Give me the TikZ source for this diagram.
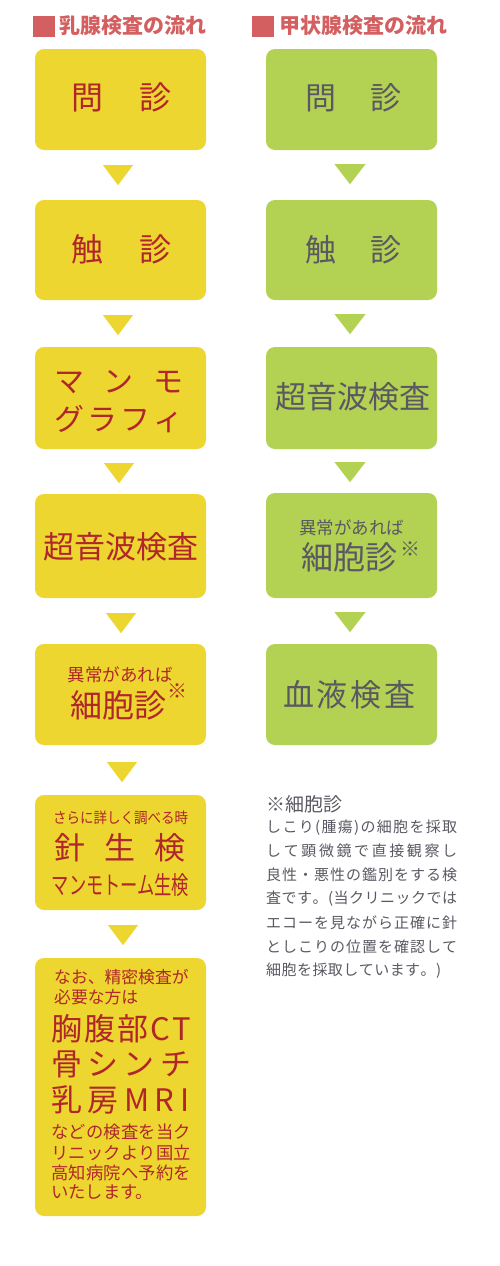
\documentclass[tikz,border=0pt]{standalone}
\usepackage{fontspec}
\setmainfont{Noto Sans CJK JP}
\usepackage{graphicx}
\usetikzlibrary{calc}
\definecolor{yel}{HTML}{EDD62F}
\definecolor{grn}{HTML}{B3D152}
\definecolor{redt}{HTML}{B0262B}
\definecolor{grayt}{HTML}{5A5862}
\definecolor{hred}{HTML}{D45F61}
\makeatletter
\def\spreadtext#1{\spr@first#1\relax}
\def\spr@first#1{#1\spr@rest}
\def\spr@rest#1{\ifx#1\relax\else\hfil#1\expandafter\spr@rest\fi}
\makeatother
\newcommand\sline[2]{\makebox[#1][s]{\spreadtext{#2}}}
\newcommand\fs[1]{\fontsize{#1}{#1}\selectfont}
\tikzset{
  ybox/.style={fill=yel, rounded corners=9pt, minimum width=171pt, inner sep=0pt, draw=none},
  gbox/.style={fill=grn, rounded corners=9pt, minimum width=171pt, inner sep=0pt, draw=none},
  rt/.style={text=redt, inner sep=0pt},
  gt/.style={text=grayt, inner sep=0pt},
  hsq/.style={fill=hred, minimum size=21.5pt, inner sep=0pt},
  htx/.style={text=hred, inner sep=0pt, anchor=west, font=\fs{21}\bfseries},
}
\begin{document}
\begin{tikzpicture}[x=1pt,y=-1pt]
\useasboundingbox (0,0) rectangle (500,1266);
% headers
\node[hsq] (hs1) at (44,26.5) {};
\node[htx] (h1) at (59,26) {乳腺検査の流れ};
\node[hsq] (hs2) at (263,26.5) {};
\node[htx] (h2) at (279,26) {甲状腺検査の流れ};
% left boxes
\node[ybox, minimum height=101pt] (L1) at (120.5,99.5) {};
\node[ybox, minimum height=100pt] (L2) at (120.5,250) {};
\node[ybox, minimum height=102pt] (L3) at (120.5,398) {};
\node[ybox, minimum height=104pt] (L4) at (120.5,546) {};
\node[ybox, minimum height=101pt] (L5) at (120.5,694.5) {};
\node[ybox, minimum height=115pt] (L6) at (120.5,852.5) {};
\node[ybox, minimum height=258pt] (L7) at (120.5,1087) {};
% right boxes
\node[gbox, minimum height=101pt] (R1) at (351.5,99.5) {};
\node[gbox, minimum height=100pt] (R2) at (351.5,250) {};
\node[gbox, minimum height=102pt] (R3) at (351.5,398) {};
\node[gbox, minimum height=105pt] (R4) at (351.5,545.5) {};
\node[gbox, minimum height=101pt] (R5) at (351.5,694.5) {};
% left triangles
\fill[yel] ($(L1.south)+(-17.5,15)$) -- ++(30,0) -- ++(-15,20) -- cycle;
\fill[yel] ($(L2.south)+(-17.5,15)$) -- ++(30,0) -- ++(-15,20) -- cycle;
\fill[yel] ($(L3.south)+(-16.5,14)$) -- ++(30,0) -- ++(-15,20) -- cycle;
\fill[yel] ($(L4.south)+(-14.5,15)$) -- ++(30,0) -- ++(-15,20) -- cycle;
\fill[yel] ($(L5.south)+(-13.5,17)$) -- ++(30,0) -- ++(-15,20) -- cycle;
\fill[yel] ($(L6.south)+(-12.5,15)$) -- ++(30,0) -- ++(-15,20) -- cycle;
% right triangles
\fill[grn] ($(R1.south)+(-17,14)$) -- ++(31,0) -- ++(-15.5,20) -- cycle;
\fill[grn] ($(R2.south)+(-17,14)$) -- ++(31,0) -- ++(-15.5,20) -- cycle;
\fill[grn] ($(R3.south)+(-17,13)$) -- ++(31,0) -- ++(-15.5,20) -- cycle;
\fill[grn] ($(R4.south)+(-17,14)$) -- ++(31,0) -- ++(-15.5,20) -- cycle;
% left texts
\node[rt, font=\fs{32}] (tL1) at (121,97.5) {問\hspace{36pt}診};
\node[rt, font=\fs{32}] (tL2) at (121,249.5) {触\hspace{36pt}診};
\node[rt, font=\fs{30}] (tL3a) at (119,382.5) {\sline{130pt}{マンモ}};
\node[rt, font=\fs{30}] (tL3b) at (119,419) {\sline{130pt}{グラフィ}};
\node[rt, font=\fs{31}] (tL4) at (120.5,547) {超音波検査};
\node[rt, font=\fs{17.5}] (tL5a) at (120,674.5) {異常があれば};
\node[rt, font=\fs{32}] (tL5b) at (118.5,705) {細胞診};
\node[rt, font=\fs{20}] (tL5c) at (177.5,691.5) {※};
\node[rt, font=\fs{15}] (tL6a) at (120.5,817.5) {\scalebox{0.9}[1]{さらに詳しく調べる時}};
\node[rt, font=\fs{31}] (tL6b) at (120,847.5) {\sline{132pt}{針生検}};
\node[rt, font=\fs{25}] (tL6c) at (120.5,885) {\scalebox{0.69}[1]{マンモトーム生検}};
\node[rt, font=\fs{16.8}, anchor=west] (tL7a) at (54,977.5) {なお、精密検査が};
\node[rt, font=\fs{16.8}, anchor=west] (tL7b) at (54,997.5) {必要な方は};
\node[rt, font=\fs{31}, anchor=west] (tL7c) at (51,1028.5) {\sline{140pt}{胸腹部CT}};
\node[rt, font=\fs{31}, anchor=west] (tL7d) at (51,1064.5) {\sline{140pt}{骨シンチ}};
\node[rt, font=\fs{31}, anchor=west] (tL7e) at (51,1100) {\sline{138pt}{乳房MRI}};
\node[rt, font=\fs{17.3}, anchor=west] (tL7f) at (51,1132) {\sline{140pt}{などの検査を当ク}};
\node[rt, font=\fs{17.3}, anchor=west] (tL7g) at (51,1152.5) {\sline{140pt}{リニックより国立}};
\node[rt, font=\fs{17.3}, anchor=west] (tL7h) at (51,1172.5) {\sline{140pt}{高知病院へ予約を}};
\node[rt, font=\fs{17.3}, anchor=west] (tL7i) at (51,1192.5) {いたします。};
% right texts
\node[gt, font=\fs{31}] (tR1) at (353.5,97.5) {問\hspace{34pt}診};
\node[gt, font=\fs{31}] (tR2) at (353.5,249.5) {触\hspace{34pt}診};
\node[gt, font=\fs{31}] (tR3) at (352.5,397) {超音波検査};
\node[gt, font=\fs{17.5}] (tR4a) at (351.5,527.5) {異常があれば};
\node[gt, font=\fs{32}] (tR4b) at (349.5,557) {細胞診};
\node[gt, font=\fs{20}] (tR4c) at (410.5,549) {※};
\node[gt, font=\fs{31}] (tR5) at (349.5,695) {\sline{133pt}{血液検査}};
% note
\node[gt, font=\fs{19}, anchor=west] (n0) at (266,804.5) {※細胞診};
\node[gt, font=\fs{15}, anchor=west] (n1) at (266,827.5) {\sline{191pt}{しこり(腫瘍)の細胞を採取}};
\node[gt, font=\fs{15}, anchor=west] (n2) at (266,851) {\sline{191pt}{して顕微鏡で直接観察し}};
\node[gt, font=\fs{15}, anchor=west] (n3) at (266,875) {\sline{191pt}{良性・悪性の鑑別をする検}};
\node[gt, font=\fs{15}, anchor=west] (n4) at (266,899) {\sline{191pt}{査です。(当クリニックでは}};
\node[gt, font=\fs{15}, anchor=west] (n5) at (266,923) {\sline{191pt}{エコーを見ながら正確に針}};
\node[gt, font=\fs{15}, anchor=west] (n6) at (266,946.5) {\sline{191pt}{としこりの位置を確認して}};
\node[gt, font=\fs{15}, anchor=west] (n7) at (266,970.5) {\sline{175pt}{細胞を採取しています。)}};
\end{tikzpicture}
\end{document}
